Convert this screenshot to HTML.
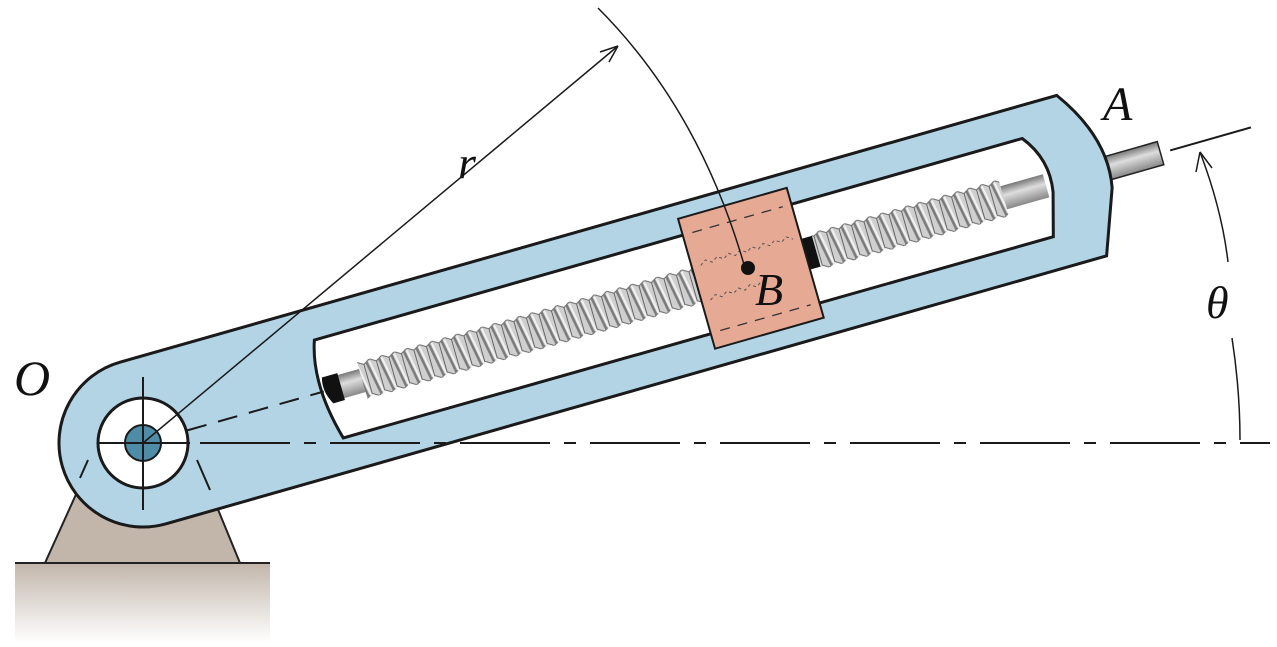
<!DOCTYPE html>
<html><head><meta charset="utf-8"><style>
html,body{margin:0;padding:0;background:#fff;}
svg{display:block}
text{font-family:"Liberation Serif",serif;font-style:italic;fill:#111}
</style></head><body>
<svg width="1277" height="647" viewBox="0 0 1277 647">
<defs>
<linearGradient id="gnd" x1="0" y1="0" x2="0" y2="1">
<stop offset="0" stop-color="#c2b6ab"/><stop offset="1" stop-color="#fff"/>
</linearGradient>
<pattern id="thr" width="13" height="38" patternUnits="userSpaceOnUse" y="-19">
<rect width="13" height="38" fill="#fff"/>
<path d="M0,4 L6.5,0 L13,4 L13,34 L6.5,38 L0,34 Z" fill="#cfcfcf" stroke="#666" stroke-width="1"/>
<path d="M3,2 L9,37" stroke="#7a7a7a" stroke-width="2.5"/>
<path d="M6,2 L12,37" stroke="#f2f2f2" stroke-width="2"/>
</pattern>
<linearGradient id="rod" x1="0" y1="0" x2="0" y2="1">
<stop offset="0" stop-color="#777"/><stop offset="0.4" stop-color="#ddd"/><stop offset="1" stop-color="#888"/>
</linearGradient>
</defs>
<!-- ground -->
<rect x="15" y="563" width="255" height="80" fill="url(#gnd)"/>
<line x1="15" y1="563" x2="270" y2="563" stroke="#222" stroke-width="2"/>
<polygon points="45,563 240,563 210,490 78,490" fill="#c2b6ab" stroke="#222" stroke-width="2"/>

<g transform="translate(143,443) rotate(-15.9)">
<!-- rod past A -->
<rect x="985" y="-12" width="73" height="24" fill="url(#rod)" stroke="#222" stroke-width="1.5"/>
<path d="M0,-84 L974,-84 Q1012,-30 1002,20 L978,84 L0,84 A84,84 0 0 1 0,-84 Z" fill="#b2d4e4" stroke="#1a1a1a" stroke-width="3"/>
<path d="M193,-52 L929,-52 Q950,-25 944,8 L932,51 L194,50 Q178,-10 193,-52 Z" fill="#fff" stroke="#1a1a1a" stroke-width="3"/>
<!-- screw -->
<rect x="194" y="-12" width="745" height="24" fill="url(#rod)"/>
<rect x="228" y="-19" width="350" height="38" fill="url(#thr)"/>
<rect x="700" y="-19" width="195" height="38" fill="url(#thr)"/>
<path d="M190,-14 L206,-14 L206,14 L194,14 Q186,0 190,-14 Z" fill="#111"/>
<rect x="688" y="-16" width="12" height="32" fill="#111"/>
<!-- block -->
<rect x="576" y="-69" width="113" height="135" fill="#e6a994" stroke="#1a1a1a" stroke-width="2"/>
<g stroke="#333" stroke-width="1.3" stroke-dasharray="10,8" fill="none">
<line x1="586" y1="-52" x2="680" y2="-52"/><line x1="586" y1="50" x2="680" y2="50"/>
</g>
<g stroke="#555" stroke-width="1" stroke-dasharray="3,3" fill="none">
<path d="M585,-18 l6,-4 l6,4 l6,-4 l6,4 l6,-4 l6,4 l6,-4 l6,4 l6,-4 l6,4 l6,-4 l6,4 l6,-4 l6,4 l6,-4 l6,4"/>
<path d="M585,18 l6,-4 l6,4 l6,-4 l6,4 l6,-4 l6,4 l6,-4 l6,4 l6,-4 l6,4"/>
</g>
<!-- dashed axis -->
<line x1="46" y1="0" x2="188" y2="0" stroke="#1a1a1a" stroke-width="2" stroke-dasharray="20,12"/>
<line x1="1068" y1="0" x2="1152" y2="0" stroke="#1a1a1a" stroke-width="2"/>
</g>
<!-- pin -->
<circle cx="143" cy="443" r="45" fill="#fff" stroke="#1a1a1a" stroke-width="3"/>
<circle cx="143" cy="443" r="18" fill="#4e8ca8" stroke="#1a1a1a" stroke-width="2"/>
<line x1="143" y1="377" x2="143" y2="510" stroke="#1a1a1a" stroke-width="2"/>
<line x1="97" y1="443" x2="190" y2="443" stroke="#1a1a1a" stroke-width="2"/>
<line x1="88" y1="460" x2="80" y2="478" stroke="#1a1a1a" stroke-width="2"/>
<line x1="197" y1="460" x2="210" y2="490" stroke="#1a1a1a" stroke-width="2"/>
<!-- horizontal dash-dot -->
<line x1="200" y1="443" x2="1270" y2="443" stroke="#1a1a1a" stroke-width="2" stroke-dasharray="90,14,12,14"/>
<!-- r line -->
<line x1="143" y1="443" x2="618" y2="46" stroke="#1a1a1a" stroke-width="1.5"/>
<path d="M618,46 L600,52 M618,46 L609,62" stroke="#1a1a1a" stroke-width="1.5" fill="none"/>
<path d="M598,8 Q700,110 745,268" stroke="#1a1a1a" stroke-width="1.5" fill="none"/>
<circle cx="748" cy="268" r="7" fill="#111"/>
<!-- theta -->
<path d="M1200,152 Q1222,210 1228,262" stroke="#1a1a1a" stroke-width="1.5" fill="none"/>
<path d="M1200,152 L1196,172 M1200,152 L1212,168" stroke="#1a1a1a" stroke-width="1.5" fill="none"/>
<path d="M1232,338 Q1240,390 1240,440" stroke="#1a1a1a" stroke-width="1.5" fill="none"/>
<text x="14" y="395" font-size="50">O</text>
<text x="1103" y="120" font-size="48">A</text>
<text x="755" y="305" font-size="46">B</text>
<text x="458" y="178" font-size="46">r</text>
<text x="1206" y="318" font-size="46">θ</text>
</svg>
</body></html>
